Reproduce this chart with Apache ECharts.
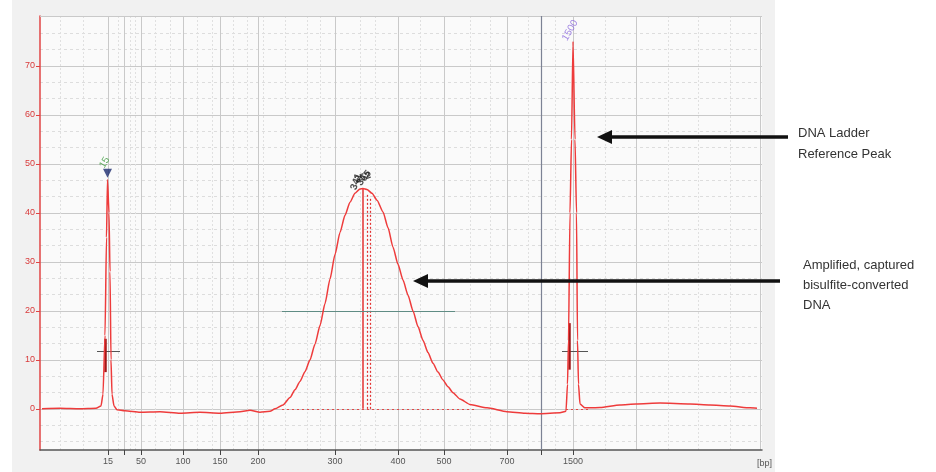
<!DOCTYPE html>
<html><head><meta charset="utf-8">
<script src="https://cdn.jsdelivr.net/npm/echarts@6/dist/echarts.min.js"></script>
<style>html,body{margin:0;padding:0;background:#fff}#c{width:936px;height:472px}</style>
</head><body><div id="c"></div>
<script>
// migration time (s) of ladder peaks and their bp labels
const ladderTime = [47.8, 49.4, 51.1, 55.3, 59.0, 62.8, 70.5, 76.8, 81.4, 87.7, 91.1, 94.3];
const ladderLabels = ['15', '', '50', '100', '150', '200', '300', '400', '500', '700', '', '1500'];
const extraMajorTime = [100.6, 113.0];
const minorTime = [43.0, 45.3, 48.8, 50.0, 50.5, 52.5, 54.0, 56.7, 58.2, 60.3, 61.7, 63.3, 65.5, 67.7, 69.0, 73.0, 74.5, 79.0, 84.0, 86.0, 89.8, 92.5, 97.5, 103.8, 106.8, 110.0];
const yTicks = [0, 10, 20, 30, 40, 50, 60, 70];
const yMinor = [-6.67, -3.33, 3.33, 6.67, 13.33, 16.67, 23.33, 26.67, 33.33, 36.67, 43.33, 46.67, 53.33, 56.67, 63.33, 66.67, 73.33, 76.67];

// electropherogram trace: time (s) and fluorescence (FU)
const traceTime = [41.2, 43.0, 45.0, 46.6, 47.1, 47.3, 47.5, 47.65, 47.75, 47.9, 48.0, 48.1, 48.2, 48.4, 48.7, 49.5, 51.0, 53.0, 55.0, 57.0, 59.0, 61.0, 62.0, 63.0, 64.0, 64.5, 65.3, 66.0, 66.5, 67.0, 67.5, 68.0, 68.5, 69.0, 69.5, 70.0, 70.5, 71.0, 71.5, 72.0, 72.5, 73.0, 73.3, 73.7, 74.2, 74.7, 75.3, 75.8, 76.3, 76.8, 77.3, 77.8, 78.3, 78.8, 79.3, 79.8, 80.3, 80.8, 81.3, 81.8, 82.3, 83.0, 84.0, 85.7, 87.7, 89.5, 91.0, 93.0, 93.6, 93.75, 93.85, 94.0, 94.15, 94.3, 94.5, 94.65, 94.75, 94.85, 95.0, 95.5, 97.0, 99.0, 100.6, 103.0, 106.0, 108.0, 110.0, 112.0, 112.7];
const traceFU = [0, 0.1, 0, 0.1, 0.6, 3, 15, 35, 46.8, 40, 28, 10, 3, 0.6, -0.2, -0.4, -0.7, -0.6, -0.9, -0.7, -0.9, -0.6, -0.3, -0.7, -0.5, 0.0, 0.8, 2.3, 3.9, 5.6, 7.6, 10, 13.2, 17, 21.5, 26.5, 31.5, 36, 39.5, 42.2, 44, 44.9, 45, 44.8, 44.0, 42.6, 40.2, 37, 33, 29.5, 26.3, 23.2, 20, 16.8, 14, 11.5, 9.3, 7.5, 5.9, 4.5, 3.3, 2.0, 0.9, 0.2, -0.6, -0.9, -1.0, -0.8, -0.5, 5, 14, 40, 55, 75, 55, 40, 14, 5, 1, 0.2, 0.3, 0.8, 1.0, 1.2, 1.0, 0.8, 0.6, 0.2, 0.1];

// peak annotations
const smearPeakTime = [73.3, 73.7, 74.0];
const smearPeakFU = 45;
const smearRange = [65.2, 82.5];
const smearRangeFU = 20;
const markerPeaks = [{t: 47.75, fu: 46.8, label: '15', color: '#3c9a3c'}, {t: 94.3, fu: 75, label: '1500', color: '#8a66dd'}];
const crossTime = [47.5, 93.9];
const crossSpan = [[46.7, 49.0], [93.2, 95.8]];
const crossFU = 11.8;
const crossBar = [[7.5, 14.3], [8, 17.5]];
const smearLabels = ['341', '352', '365'];

const chart = echarts.init(document.getElementById('c'), null, {renderer: 'canvas'});
const FONT = 'Liberation Sans';

const lineSeg = (a, b, style) => [{coord: a, lineStyle: style}, {coord: b}];
const mk = [];
mk.push(lineSeg([smearPeakTime[0], 0], [smearPeakTime[0], smearPeakFU], {color: '#e23030', width: 1.5, type: 'solid'}));
mk.push(lineSeg([smearPeakTime[1], 0], [smearPeakTime[1], smearPeakFU - 1], {color: '#e23030', width: 1.2, type: [2, 2]}));
mk.push(lineSeg([smearPeakTime[2], 0], [smearPeakTime[2], smearPeakFU - 2], {color: '#e23030', width: 1.2, type: [2, 2]}));
mk.push(lineSeg([smearRange[0], smearRangeFU], [smearRange[1], smearRangeFU], {color: '#5f8c84', width: 1, type: 'solid'}));
mk.push(lineSeg([smearRange[0], 0], [smearRange[1] + 2, 0], {color: '#e04848', width: 1, type: [2, 3]}));
mk.push(lineSeg([93.6, 0], [96.0, 0], {color: '#e04848', width: 1, type: [2, 3]}));
for (let i = 0; i < 2; i++) {
  mk.push(lineSeg([crossSpan[i][0], crossFU], [crossSpan[i][1], crossFU], {color: '#555', width: 1, type: 'solid'}));
  mk.push(lineSeg([crossTime[i], crossBar[i][0]], [crossTime[i], crossBar[i][1]], {color: '#a01818', width: 2.5, type: 'solid'}));
}

const option = {
  backgroundColor: '#ffffff',
  animation: false,
  textStyle: {fontFamily: FONT},
  graphic: [
    {type: 'rect', z: -10, shape: {x: 12, y: 0, width: 763, height: 472}, style: {fill: '#f1f1f1'}},
    {type: 'rect', z: -9, shape: {x: 40, y: 16, width: 722, height: 434}, style: {fill: '#fafafa'}},
    {type: 'line', z: 1, shape: {x1: 40, y1: 16.5, x2: 762, y2: 16.5}, style: {stroke: '#c9c9c9', lineWidth: 1}},
    {type: 'text', z: 100, style: {text: '[bp]', x: 757, y: 459, font: '9px "Liberation Sans"', fill: '#555'}},
    {type: 'line', z: 100, shape: {x1: 788, y1: 137, x2: 606, y2: 137}, style: {stroke: '#111', lineWidth: 3.5}},
    {type: 'polygon', z: 100, shape: {points: [[597, 137], [612, 130], [612, 144]]}, style: {fill: '#111'}},
    {type: 'line', z: 100, shape: {x1: 780, y1: 281, x2: 422, y2: 281}, style: {stroke: '#111', lineWidth: 3.5}},
    {type: 'polygon', z: 100, shape: {points: [[413, 281], [428, 274], [428, 288]]}, style: {fill: '#111'}},
    {type: 'text', z: 100, style: {text: 'DNA Ladder\nReference Peak', x: 798, y: 123, font: '13px "Liberation Sans"', fill: '#333', lineHeight: 21}},
    {type: 'text', z: 100, style: {text: 'Amplified, captured\nbisulfite-converted\nDNA', x: 803, y: 255, font: '13px "Liberation Sans"', fill: '#333', lineHeight: 20}}
  ],
  grid: {left: 40, right: 174, top: 16, bottom: 22, show: false},
  xAxis: [
    {
      type: 'value', min: 41, max: 113.2,
      axisLine: {show: true, onZero: false, lineStyle: {color: '#555', width: 1.5}},
      axisTick: {show: true, length: 5, customValues: ladderTime, lineStyle: {color: '#444'}},
      axisLabel: {customValues: ladderTime, color: '#555', fontSize: 9, margin: 7,
        formatter: v => { const i = ladderTime.findIndex(t => Math.abs(t - v) < 1e-6); return i >= 0 ? ladderLabels[i] : ''; }},
      splitLine: {show: true, lineStyle: {color: '#c9c9c9', width: 1}}
    },
    {
      type: 'value', min: 41, max: 113.2, position: 'bottom',
      axisLine: {show: false}, axisTick: {show: false, customValues: minorTime},
      axisLabel: {show: false, customValues: minorTime},
      splitLine: {show: true, lineStyle: {color: '#e0e0e0', width: 1, type: [2, 2]}}
    },
    {
      type: 'value', min: 41, max: 113.2, position: 'bottom',
      axisLine: {show: false}, axisTick: {show: false, customValues: extraMajorTime},
      axisLabel: {show: false, customValues: extraMajorTime},
      splitLine: {show: true, lineStyle: {color: '#c9c9c9', width: 1}}
    }
  ],
  yAxis: [
    {
      type: 'value', min: -8.4, max: 80.2,
      axisLine: {show: true, onZero: false, lineStyle: {color: '#e04444', width: 1.5}},
      axisTick: {show: true, length: 4, customValues: yTicks, lineStyle: {color: '#e04444'}},
      axisLabel: {customValues: yTicks, color: '#d83a3a', fontSize: 9, margin: 5},
      splitLine: {show: true, lineStyle: {color: '#c9c9c9', width: 1}}
    },
    {
      type: 'value', min: -8.4, max: 80.2, position: 'left',
      axisLine: {show: false}, axisTick: {show: false, customValues: yMinor},
      axisLabel: {show: false, customValues: yMinor},
      splitLine: {show: true, lineStyle: {color: '#dddddd', width: 1, type: [3, 3]}}
    }
  ],
  series: [
    {
      type: 'line', name: 'trace', xAxisIndex: 0, yAxisIndex: 0,
      data: traceTime.map((t, i) => [t, traceFU[i]]),
      showSymbol: false, symbol: 'none',
      smooth: 0.2, smoothMonotone: 'x',
      lineStyle: {color: '#ee3b3b', width: 1.5},
      z: 5,
      markLine: {silent: true, symbol: 'none', label: {show: false}, animation: false, data: mk}
    },
    {
      type: 'line', name: 'ref1000', xAxisIndex: 0, yAxisIndex: 0, data: [],
      markLine: {silent: true, symbol: 'none', label: {show: false},
        data: [{xAxis: ladderTime[10], lineStyle: {color: '#7c8294', width: 1.2, type: 'solid'}}]}
    },
    {
      type: 'scatter', name: 'markerTri', xAxisIndex: 0, yAxisIndex: 0, z: 6,
      symbol: 'triangle', symbolRotate: 180, symbolSize: 9,
      itemStyle: {color: '#1c2a6e'},
      data: [[markerPeaks[0].t, markerPeaks[0].fu + 1.3]]
    },
    {
      type: 'scatter', name: 'peakLabels', xAxisIndex: 0, yAxisIndex: 0, z: 6,
      symbolSize: 0,
      data: markerPeaks.map(p => ({value: [p.t, p.fu], label: {show: true, formatter: p.label, color: p.color, rotate: 60, fontSize: 10, position: 'top', distance: p.label === '15' ? 12 : 6, offset: [3, 0]}}))
    },
    {
      type: 'scatter', name: 'smearLabels', xAxisIndex: 0, yAxisIndex: 0, z: 6,
      symbolSize: 0,
      data: smearLabels.map((s, i) => ({value: [smearPeakTime[0] + i * 0.35 - 0.2, smearPeakFU], label: {show: true, formatter: s, color: '#222', fontWeight: 'bold', rotate: [70, 20, 50][i], fontSize: 10, position: 'top', distance: 5 + i}}))
    }
  ]
};
chart.setOption(option);
</script></body></html>
